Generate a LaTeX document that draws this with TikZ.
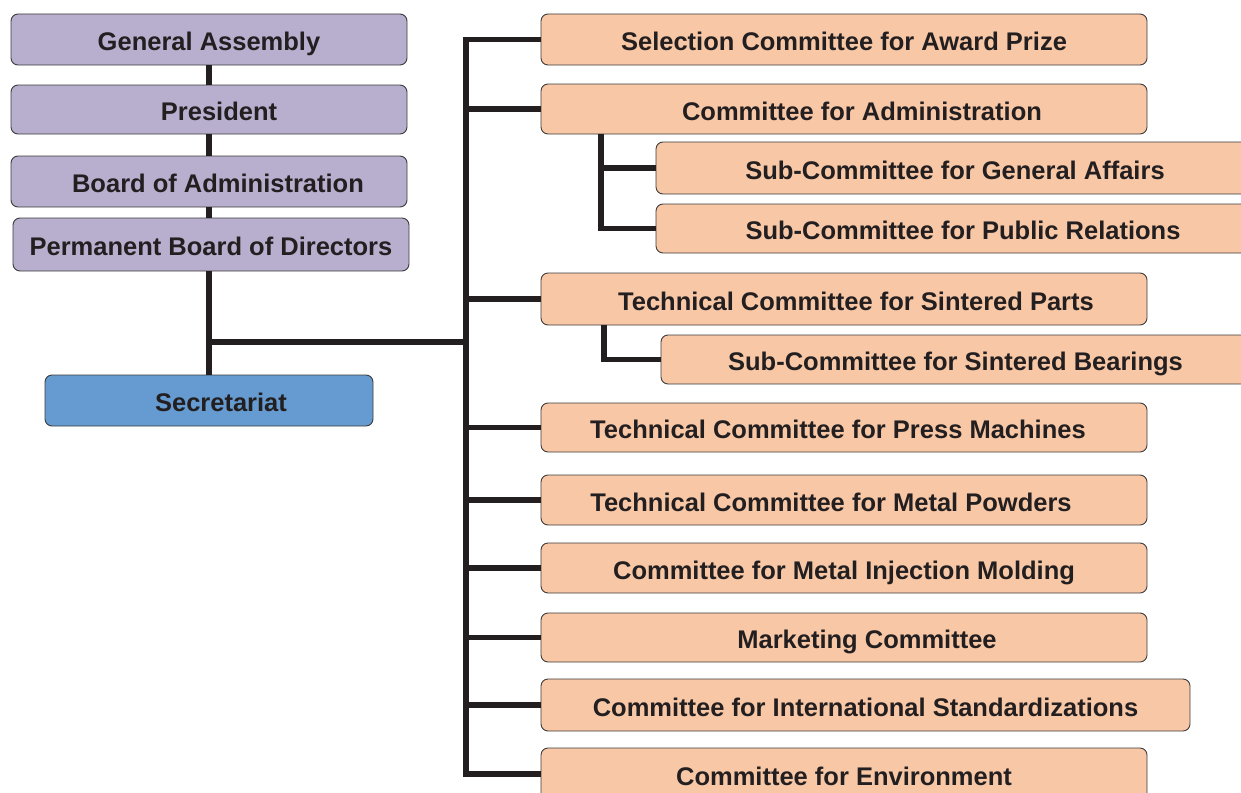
\documentclass[tikz,border=0pt]{standalone}
\usepackage{fontspec}
\setmainfont{Liberation Sans}
\definecolor{purp}{HTML}{B8AECE}
\definecolor{orng}{HTML}{F7C7A6}
\definecolor{blu}{HTML}{659BD0}
\definecolor{txt}{HTML}{231F20}
\definecolor{edge}{HTML}{3C3C3C}
\begin{document}
\begin{tikzpicture}[x=1pt,y=-1pt,
  box/.style={draw=edge, line width=0.9pt, rounded corners=7pt, inner sep=0pt,
    text height=24pt, text depth=2pt, text=txt,
    font=\bfseries\fontsize{25.5}{28}\selectfont},
  lbox/.style={box, fill=purp},
  sbox/.style={box, fill=blu},
  obox/.style={box, fill=orng},
  conn/.style={line width=5.6pt, draw=txt}]
\useasboundingbox (0,0) rectangle (1241,792);
\clip (0,0) rectangle (1241,792);
% left column
\node[lbox, minimum width=396pt, minimum height=51pt] (GA)  at (209,39.5) {General Assembly};
\node[lbox, minimum width=396pt, minimum height=49pt] (Pres) at (209,109.5) {\hspace*{20pt}President};
\node[lbox, minimum width=396pt, minimum height=51pt] (BoA) at (209,181.5) {\hspace*{18pt}Board of Administration};
\node[lbox, minimum width=396pt, minimum height=53pt] (PBD) at (211,244.5) {Permanent Board of Directors};
\node[sbox, minimum width=328pt, minimum height=51pt] (Sec) at (209,400.5) {\hspace*{24pt}Secretariat};
% right column
\node[obox, minimum width=606pt, minimum height=51pt] (Sel)  at (844,39.5) {Selection Committee for Award Prize};
\node[obox, minimum width=606pt, minimum height=50pt] (CAdm) at (844,109) {\hspace*{36pt}Committee for Administration};
\node[obox, minimum width=598pt, minimum height=52pt] (SubGA) at (955,168) {Sub-Committee for General Affairs};
\node[obox, minimum width=614pt, minimum height=49pt] (SubPR) at (963,228.5) {Sub-Committee for Public Relations};
\node[obox, minimum width=606pt, minimum height=52pt] (TSP)  at (844,299) {\hspace*{24pt}Technical Committee for Sintered Parts};
\node[obox, minimum width=589pt, minimum height=49pt] (SubSB) at (955.5,359.5) {Sub-Committee for Sintered Bearings};
\node[obox, minimum width=606pt, minimum height=49pt] (TPM)  at (844,427.5) {Technical Committee for Press Machines\hspace*{12pt}};
\node[obox, minimum width=606pt, minimum height=50pt] (TMP)  at (844,500) {Technical Committee for Metal Powders\hspace*{26pt}};
\node[obox, minimum width=606pt, minimum height=50pt] (MIM)  at (844,568) {Committee for Metal Injection Molding};
\node[obox, minimum width=606pt, minimum height=49pt] (Mkt)  at (844,637.5) {\hspace*{46pt}Marketing Committee};
\node[obox, minimum width=649pt, minimum height=52pt] (Intl) at (865.5,705) {Committee for International Standardizations};
\node[obox, minimum width=606pt, minimum height=52pt] (Env)  at (844,774) {Committee for Environment};
% left connectors
\draw[conn] (GA.south) -- (Pres.north);
\draw[conn] (Pres.south) -- (BoA.north);
\draw[conn] (BoA.south) -- (BoA.south |- PBD.north);
\draw[conn] (Sec.north |- PBD.south) -- (Sec.north);
\coordinate (tx) at (466,0);
\draw[conn] (Sec.north |- 0,342) -- (tx |- 0,342);
% trunk
\draw[conn] (Sel.west) -- (Sel.west -| tx) -- (Env.west -| tx) -- (Env.west);
\foreach \n in {CAdm,TSP,TPM,TMP,MIM,Mkt,Intl}{
  \draw[conn] (\n.west -| tx) -- (\n.west);
}
% sub connectors
\coordinate (sx) at (601,0);
\draw[conn] (CAdm.south -| sx) -- (SubPR.west -| sx) -- (SubPR.west);
\draw[conn] (SubGA.west -| sx) -- (SubGA.west);
\coordinate (sy) at (604,0);
\draw[conn] (TSP.south -| sy) -- (SubSB.west -| sy) -- (SubSB.west);
\end{tikzpicture}
\end{document}
